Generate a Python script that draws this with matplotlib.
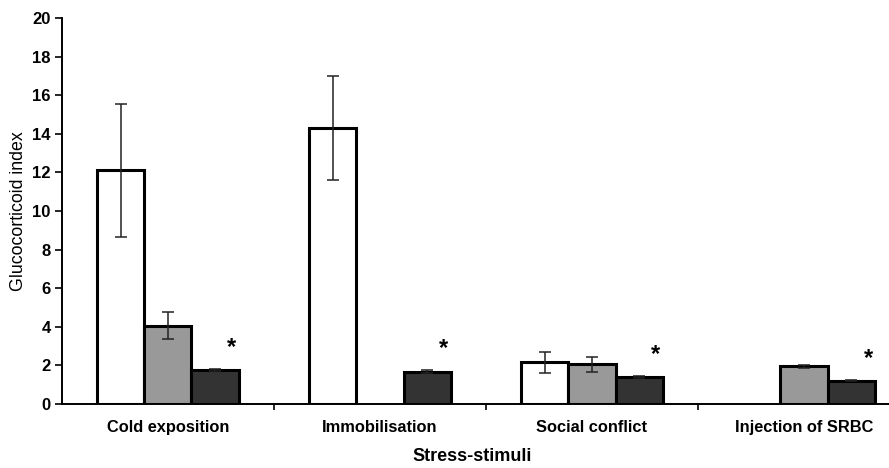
import numpy as np
import matplotlib
matplotlib.use("Agg")
import matplotlib.pyplot as plt

plt.rcParams['font.family'] = ['Liberation Sans', 'DejaVu Sans']

# data
stimuli = ['Cold exposition', 'Immobilisation', 'Social conflict', 'Injection of SRBC']
white_vals = [12.12, 14.32, 2.14, np.nan]
white_err = [3.45, 2.7, 0.56, np.nan]
gray_vals = [4.05, np.nan, 2.04, 1.93]
gray_err = [0.69, np.nan, 0.4, 0.08]
black_vals = [1.74, 1.66, 1.37, 1.18]
black_err = [0.05, 0.07, 0.05, 0.03]
significant = [True, True, True, True]

fig = plt.figure(figsize=(8.89, 4.68), dpi=100)
ax = fig.add_axes([0.0697, 0.1378, 0.9539, 0.8227])

x = np.arange(len(stimuli))
w = 0.222
series = [(white_vals, white_err, 'white'),
          (gray_vals, gray_err, '#999999'),
          (black_vals, black_err, '#333333')]

for k, (vals, errs, col) in enumerate(series):
    pos = x + (k - 1) * w
    ax.bar(pos, vals, width=w, color=col, edgecolor='black', linewidth=2.2, zorder=2)
    ax.errorbar(pos, vals, yerr=errs, fmt='none', ecolor='#222222',
                elinewidth=1.1, capsize=4.5, capthick=1.1, zorder=3)

for i, s in enumerate(significant):
    if s:
        ax.annotate('*', (x[i] + w + 0.08, black_vals[i]), xytext=(0, 8),
                    textcoords='offset points', ha='center', va='bottom',
                    fontsize=17, fontweight='bold')

ax.set_xlim(-0.5, len(stimuli) - 0.5)
ax.set_ylim(0, 20)
ax.set_yticks(np.arange(0, 21, 2))
ax.set_xticks(x)
ax.set_xticklabels(stimuli, fontsize=11.8, fontweight='bold')
ax.set_xticks(x[:-1] + 0.5, minor=True)
ax.tick_params(axis='x', which='major', length=0, pad=12)
ax.tick_params(axis='x', which='minor', length=4, width=1.2, direction='out')
ax.tick_params(axis='y', length=5, width=1.2, labelsize=12, pad=3)
for lab in ax.get_yticklabels():
    lab.set_fontweight('bold')

for side in ['top', 'right']:
    ax.spines[side].set_visible(False)
for side in ['left', 'bottom']:
    ax.spines[side].set_linewidth(1.4)

ax.set_ylabel('Glucocorticoid index', fontsize=12.8, labelpad=4)
fig.text(472 / 889, 0.006, 'Stress-stimuli', ha='center', va='bottom',
         fontsize=13, fontweight='bold')

fig.savefig('out.png', dpi=100)
